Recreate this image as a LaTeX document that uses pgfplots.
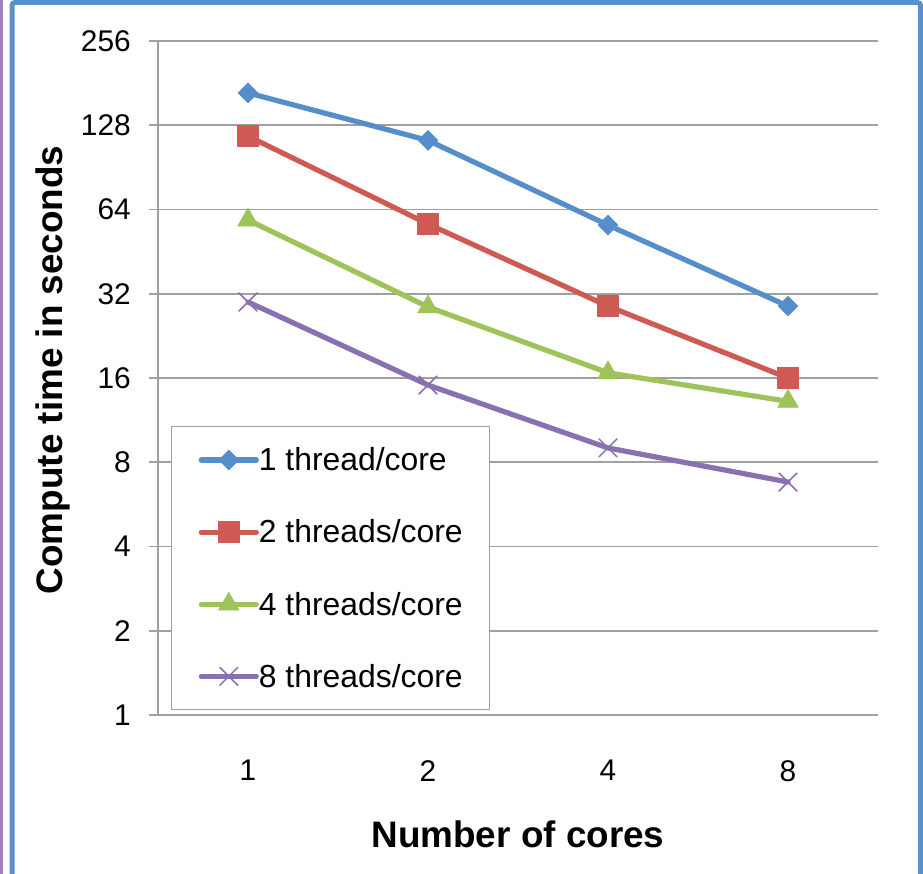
\documentclass[border=0pt]{standalone}
\usepackage{pgfplots}
\pgfplotsset{compat=1.18}
\usepackage{fontspec}
\setmainfont{Liberation Sans}

\definecolor{cBlue}{RGB}{86,141,203}
\definecolor{cRed}{RGB}{207,90,83}
\definecolor{cGreen}{RGB}{158,195,90}
\definecolor{cPurple}{RGB}{137,112,176}
\definecolor{cGrid}{RGB}{160,160,160}
\definecolor{cFrame}{RGB}{91,145,203}
\definecolor{cFrameL}{RGB}{160,130,190}

\pgfplotsset{
  series/.style={line width=5.2bp, line cap=round, line join=round},
}

\begin{document}
\begin{tikzpicture}
\begin{axis}[
  at={(158bp,159bp)}, anchor=south west,
  scale only axis, width=720bp, height=674bp,
  xmin=0.5, xmax=4.5,
  ymode=log, log basis y=2, ymin=1, ymax=256,
  xtick={1,2,3,4}, xticklabels={1,2,4,8},
  ytick={1,2,4,8,16,32,64,128,256},
  yticklabels={1,2,4,8,16,32,64,128,256},
  axis lines=left,
  axis line style={-, draw=cGrid, line width=1.5bp},
  ymajorgrids, major grid style={draw=cGrid, line width=1.5bp},
  tick align=outside,
  major tick length=9bp,
  ytick style={draw=cGrid, line width=1.5bp},
  xtick style={draw=none},
  ticklabel style={font=\fontsize{30}{36}\selectfont, inner sep=0pt},
  yticklabel style={xshift=-18bp},
  xticklabel style={yshift=-36bp},
  xlabel={Number of cores},
  ylabel={Compute time in seconds},
  label style={font=\fontsize{37}{44}\selectfont\bfseries},
  xlabel style={at={(axis description cs:0.5,-0.19733)}, anchor=base},
  ylabel style={at={(axis description cs:-0.13333,0.512)}, anchor=base},
  legend image code/.code={
    \draw[mark repeat=2, mark phase=2] plot coordinates {(0bp,0bp) (27.5bp,0bp) (55bp,0bp)};
  },
  legend cell align=left,
  legend style={
    at={(axis description cs:0.018,0.4288)}, anchor=north west,
    draw=cGrid, line width=1.5bp, fill=white,
    font=\fontsize{32}{38}\selectfont,
    nodes={inner sep=0pt},
    row sep=47.5bp, column sep=0bp,
    inner xsep=27bp, inner ysep=21bp,
  },
  clip=false,
]
\addplot[series, cBlue, mark=square*, mark size=7.07bp,
  mark options={rotate=45, line width=0.5bp, fill=cBlue, draw=cBlue}]
  coordinates {(1,167) (2,113) (3,56.3) (4,28.9)};
\addlegendentry{1 thread/core}
\addplot[series, cRed, mark=square*, mark size=10.5bp,
  mark options={line width=0.5bp, fill=cRed, draw=cRed}]
  coordinates {(1,117) (2,56.8) (3,28.9) (4,16)};
\addlegendentry{2 threads/core}
\addplot[series, cGreen, mark=triangle*, mark size=12bp,
  mark options={line width=0.5bp, fill=cGreen, draw=cGreen}]
  coordinates {(1,58.7) (2,28.7) (3,16.7) (4,13.2)};
\addlegendentry{4 threads/core}
\addplot[series, cPurple, mark=x, mark size=12.7bp,
  mark options={line width=1.5bp, draw=cPurple}]
  coordinates {(1,29.9) (2,15.1) (3,9.0) (4,6.8)};
\addlegendentry{8 threads/core}
\end{axis}
\pgfresetboundingbox
\useasboundingbox (0,0) rectangle (923bp,874bp);
% outer frame of the chart area
\draw[cFrameL, line width=2.7bp] (1.35bp,-10bp) -- (1.35bp,880bp);
\draw[cFrame, line width=5bp, rounded corners=3bp]
  (12bp,-10bp) -- (12bp,871.5bp) -- (920.5bp,871.5bp) -- (920.5bp,-10bp);
\end{tikzpicture}
\end{document}
